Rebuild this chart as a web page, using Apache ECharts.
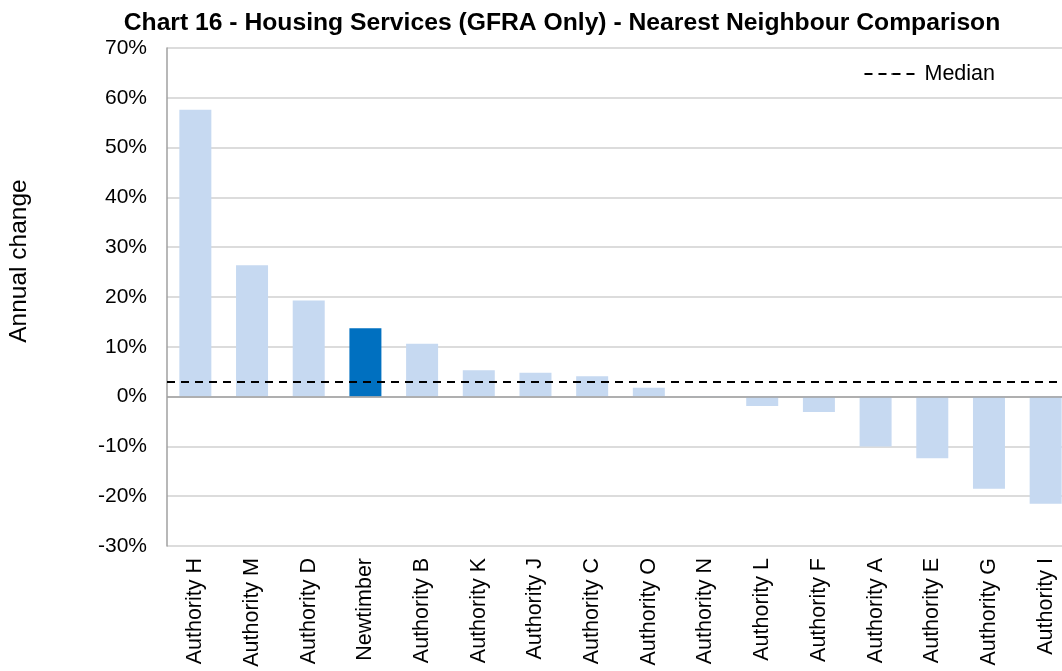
<!DOCTYPE html>
<html>
<head>
<meta charset="utf-8">
<script src="https://cdn.jsdelivr.net/npm/echarts@6/dist/echarts.min.js"></script>
<style>html,body{margin:0;padding:0;background:#fff}#c{width:1062px;height:671px}</style>
</head>
<body>
<div id="c"></div>
<script>
const categories = ['Authority H','Authority M','Authority D','Newtimber','Authority B','Authority K','Authority J','Authority C','Authority O','Authority N','Authority L','Authority F','Authority A','Authority E','Authority G','Authority I'];
const annualChange = [57.6, 26.4, 19.3, 13.7, 10.6, 5.3, 4.8, 4.1, 1.8, -0.1, -1.9, -3.1, -10.0, -12.4, -18.5, -21.5];
const medianValue = [3.0];
const highlightName = 'Newtimber';
const yTicks = {min: -30, max: 70, interval: 10};

const FONT = 'Liberation Sans, Arial, sans-serif';
const chart = echarts.init(document.getElementById('c'), null, {renderer: 'canvas'});
chart.setOption({
  animation: false,
  backgroundColor: '#ffffff',
  title: {
    text: 'Chart 16 - Housing Services (GFRA Only) - Nearest Neighbour Comparison',
    left: 557, top: 6, textAlign: 'center',
    textStyle: {fontFamily: FONT, fontSize: 24.7, fontWeight: 'bold', color: '#000'}
  },
  legend: {
    right: 62, top: 58,
    itemWidth: 55, itemHeight: 2, itemGap: 8,
    textStyle: {fontFamily: FONT, fontSize: 21.5, color: '#000'},
    data: [{name: 'Median'}]
  },
  grid: {left: 167, top: 48, right: -12, bottom: 125, containLabel: false, outerBoundsMode: 'none'},
  xAxis: {
    type: 'category',
    data: categories,
    axisLine: {onZero: false, show: false},
    axisTick: {show: false},
    axisLabel: {rotate: 90, margin: 12, fontFamily: FONT, fontSize: 21.5, color: '#000', interval: 0},
    splitLine: {show: false}
  },
  yAxis: {
    type: 'value',
    min: yTicks.min, max: yTicks.max, interval: yTicks.interval,
    name: 'Annual change',
    nameLocation: 'middle',
    nameGap: 135,
    nameTextStyle: {fontFamily: FONT, fontSize: 24.5, color: '#000', padding: [0, 0, 0, 72]},
    axisLine: {show: true, lineStyle: {color: '#a0a0a0', width: 1.5}},
    axisTick: {show: false},
    axisLabel: {formatter: '{value}%', margin: 20, fontFamily: FONT, fontSize: 21, color: '#000'},
    splitLine: {lineStyle: {color: '#d0d0d0', width: 1.5}}
  },
  series: [
    {
      type: 'bar',
      name: 'Annual change',
      barWidth: 32,
      data: annualChange.map((v, i) => ({
        value: v,
        itemStyle: {color: categories[i] === highlightName ? '#0070c0' : '#c6d9f1'}
      })),
      markLine: {
        silent: true, symbol: 'none', label: {show: false},
        lineStyle: {color: '#a0a0a0', type: 'solid', width: 1.5},
        data: [{yAxis: 0}]
      },
      z: 2
    },
    {
      type: 'line',
      name: 'Median',
      data: [],
      symbol: 'none',
      lineStyle: {color: '#000', type: [8, 6], width: 2},
      itemStyle: {color: '#000'},
      markLine: {
        silent: true, symbol: 'none', label: {show: false},
        lineStyle: {color: '#000', type: [8, 6], width: 2},
        data: [{yAxis: medianValue[0]}]
      },
      z: 5
    }
  ]
});
</script>
</body>
</html>
